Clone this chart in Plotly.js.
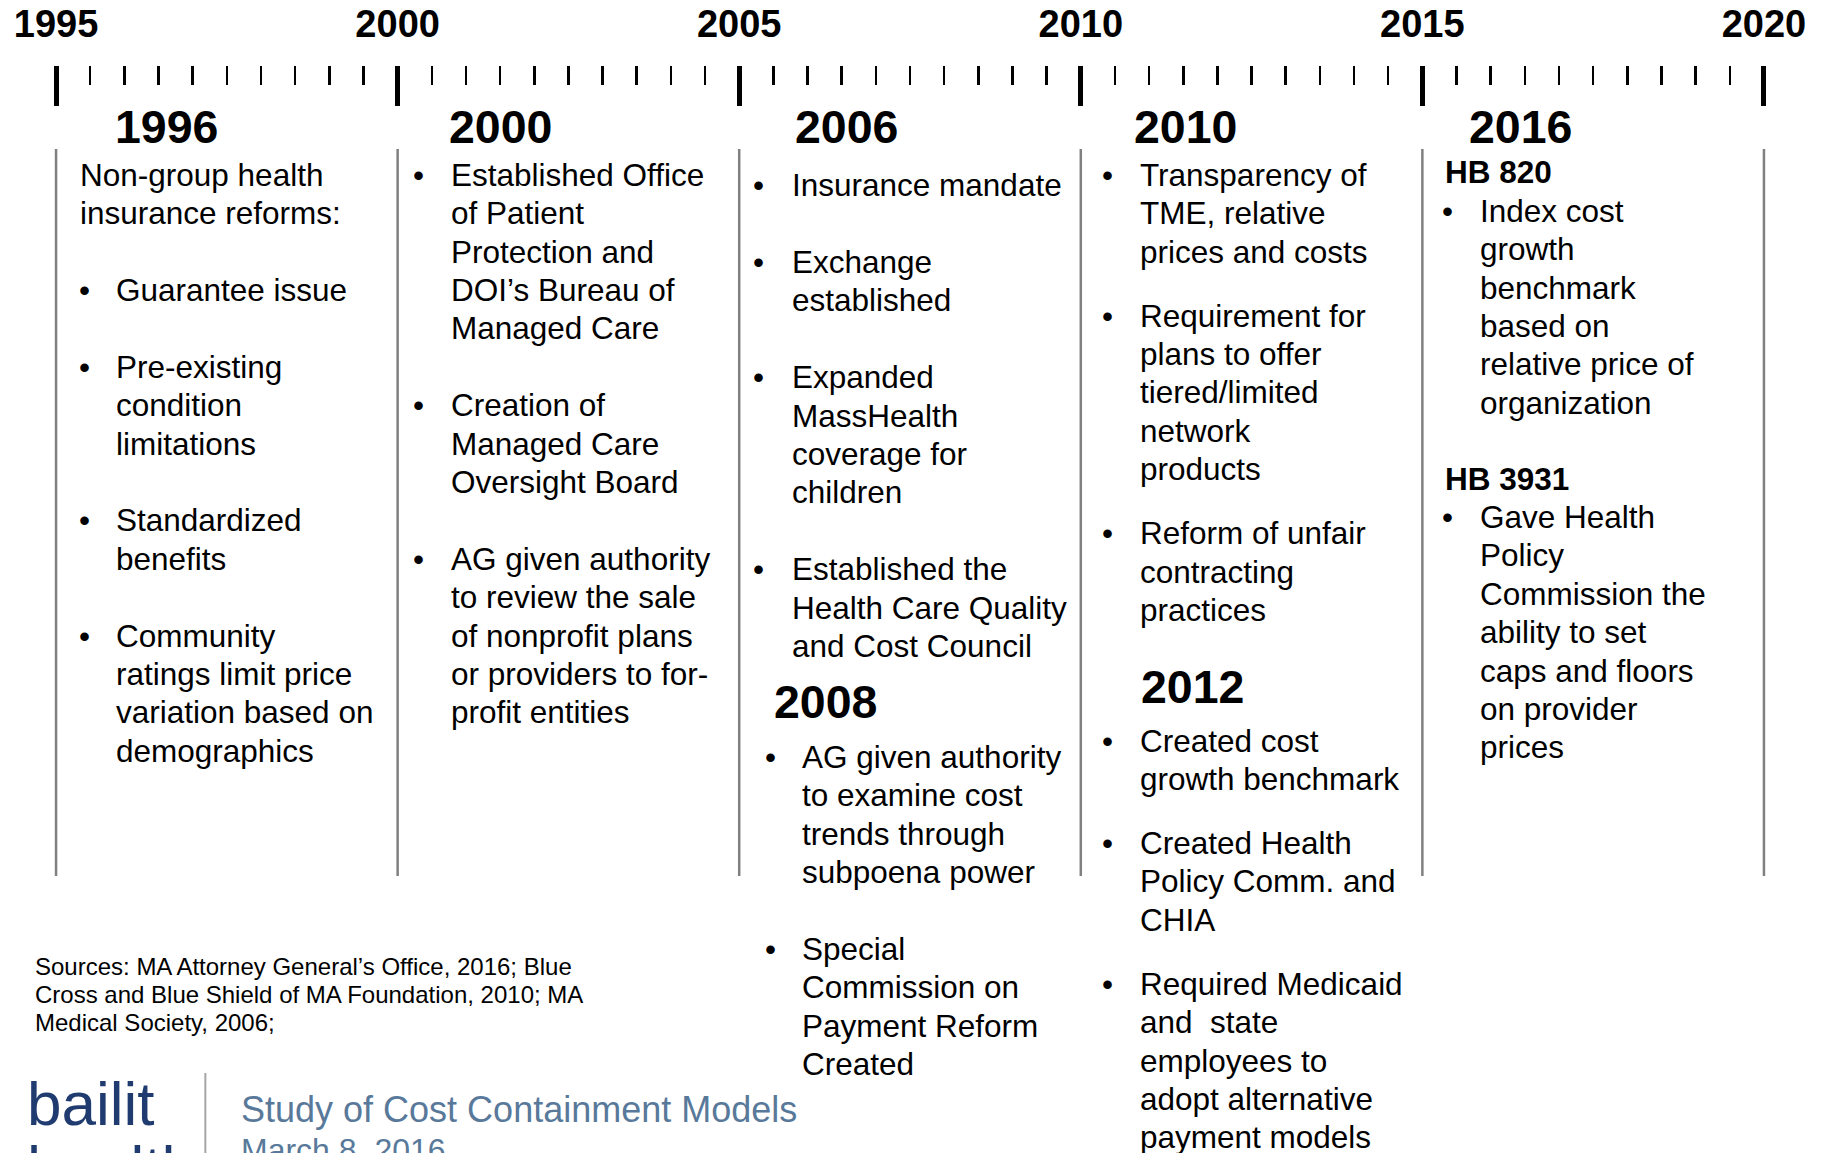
<!DOCTYPE html>
<html>
<head>
<meta charset="utf-8">
<script src="https://cdn.plot.ly/plotly-3.0.1.min.js"></script>
<style>html,body{margin:0;padding:0;background:#fff;}#chart{width:1826px;height:1153px;}</style>
</head>
<body>
<div id="chart"></div>
<script>
// ---------------- DATA ----------------
const axisYears = [1995, 2000, 2005, 2010, 2015, 2020];
const milestones = ['1996', '2000', '2006', '2008', '2010', '2012', '2016'];

const intro1996 = ['Non-group health', 'insurance reforms:'];
const items1996 = [
  ['Guarantee issue'],
  ['Pre-existing', 'condition', 'limitations'],
  ['Standardized', 'benefits'],
  ['Community', 'ratings limit price', 'variation based on', 'demographics']
];
const items2000 = [
  ['Established Office', 'of Patient', 'Protection and', 'DOI\u2019s Bureau of', 'Managed Care'],
  ['Creation of', 'Managed Care', 'Oversight Board'],
  ['AG given authority', 'to review the sale', 'of nonprofit plans', 'or providers to for-', 'profit entities']
];
const items2006 = [
  ['Insurance mandate'],
  ['Exchange', 'established'],
  ['Expanded', 'MassHealth', 'coverage for', 'children'],
  ['Established the', 'Health Care Quality', 'and Cost Council']
];
const items2008 = [
  ['AG given authority', 'to examine cost', 'trends through', 'subpoena power'],
  ['Special', 'Commission on', 'Payment Reform', 'Created']
];
const items2010 = [
  ['Transparency of', 'TME, relative', 'prices and costs'],
  ['Requirement for', 'plans to offer', 'tiered/limited', 'network', 'products'],
  ['Reform of unfair', 'contracting', 'practices']
];
const items2012 = [
  ['Created cost', 'growth benchmark'],
  ['Created Health', 'Policy Comm. and', 'CHIA'],
  ['Required Medicaid', 'and\u00a0 state', 'employees to', 'adopt alternative', 'payment models']
];
const bills2016 = ['HB 820', 'HB 3931'];
const itemsHB820 = [
  ['Index cost', 'growth', 'benchmark', 'based on', 'relative price of', 'organization']
];
const itemsHB3931 = [
  ['Gave Health', 'Policy', 'Commission the', 'ability to set', 'caps and floors', 'on provider', 'prices']
];
const sources = [
  'Sources: MA Attorney General\u2019s Office, 2016; Blue',
  'Cross and Blue Shield of MA Foundation, 2010; MA',
  'Medical Society, 2006;'
];
const footerTitle = 'Study of Cost Containment Models';
const footerDate = 'March 8, 2016';
const logoWords = ['bailit', 'health'];

// ---------------- LAYOUT HELPERS ----------------
const F = 'Liberation Sans, Arial, Helvetica, sans-serif';
const W = 1826, H = 1153, ML = 56, MR = 62, MT = 66;
const BODY = 31.5, HEAD = 46.5, P = 38.4;
const EDGE = 0.03; // small range padding so the end ticks are drawn
const paperX = px => (px - ML) / (W - ML - MR);
const paperY = py => (H - py) / (H - MT);
const ann = [];

function text(x, shift, y, t, opt) {
  opt = opt || {};
  ann.push({
    xref: opt.paper ? 'paper' : 'x', yref: opt.paper ? 'paper' : 'y',
    x: x, y: opt.paper ? paperY(y) : y, xshift: shift || 0,
    text: t, showarrow: false,
    xanchor: opt.anchor || 'left', yanchor: 'middle',
    font: {family: F, size: opt.size || BODY, color: opt.color || '#000', weight: opt.bold ? 'bold' : 'normal'}
  });
}
function header(col, shift, y, t) { text(col, shift, y, t, {size: HEAD, bold: true}); }
function placeItems(col, bOff, tOff, y0, items, gap) {
  let y = y0, last = y0;
  items.forEach(lines => {
    text(col, bOff, y, '\u2022', {anchor: 'center'});
    lines.forEach((ln, k) => { text(col, tOff, y + k * P, ln); last = y + k * P; });
    y = last + P + gap;
  });
  return last;
}

// column 1 (1995-2000)
header(axisYears[0], 57, 126.5, milestones[0]);
intro1996.forEach((ln, k) => text(axisYears[0], 22, 174.7 + k * P, ln));
placeItems(axisYears[0], 28, 58, 174.7 + 3 * P, items1996, P);

// column 2 (2000-2005)
header(axisYears[1], 49.4, 126.5, milestones[1]);
placeItems(axisYears[1], 20.4, 51.4, 174.7, items2000, P);

// column 3 (2005-2010)
header(axisYears[2], 53.8, 126.5, milestones[2]);
placeItems(axisYears[2], 18.8, 50.8, 185.2, items2006, P);
header(axisYears[2], 32.8, 702, milestones[3]);
placeItems(axisYears[2], 30.8, 60.8, 757, items2008, P);

// column 4 (2010-2015)
header(axisYears[3], 51.2, 126.5, milestones[4]);
placeItems(axisYears[3], 27.2, 57.2, 174.7, items2010, 25.6);
header(axisYears[3], 58.2, 687, milestones[5]);
placeItems(axisYears[3], 27.2, 57.2, 740.6, items2012, 25.6);

// column 5 (2015-2020)
header(axisYears[4], 44.3, 126.5, milestones[6]);
text(axisYears[4], 20.3, 172.3, bills2016[0], {bold: true});
placeItems(axisYears[4], 25.6, 55.6, 210.8, itemsHB820, P);
text(axisYears[4], 20.3, 478.6, bills2016[1], {bold: true});
placeItems(axisYears[4], 25.6, 55.6, 517, itemsHB3931, P);

// footer
sources.forEach((ln, k) => text(paperX(35), 0, 966.5 + k * 28, ln, {paper: true, size: 24}));
text(paperX(241), 0, 1109.5, footerTitle, {paper: true, size: 36, color: '#58799a'});
text(paperX(241), 0, 1149.5, footerDate, {paper: true, size: 32, color: '#58799a'});
text(paperX(27), 0, 1103, logoWords[0], {paper: true, size: 62, color: '#1f3b6f'});
text(paperX(27), 0, 1167, logoWords[1], {paper: true, size: 62, color: '#1f3b6f'});

// separators
const shapes = axisYears.map(yr => ({
  type: 'line', xref: 'x', yref: 'y', x0: yr, x1: yr, y0: 149, y1: 876,
  line: {color: '#808080', width: 2.5}
}));
shapes.push({type: 'line', xref: 'paper', yref: 'y', x0: paperX(207), x1: paperX(207), y0: 1073, y1: H,
  line: {color: '#a6a6a6', width: 2}});

const pxPerYear = (W - ML - MR) / (axisYears[axisYears.length - 1] - axisYears[0]);
const padPx = EDGE * pxPerYear;

const layout = {
  width: W, height: H,
  margin: {l: ML - padPx, r: MR - padPx, t: MT, b: 0, pad: 0},
  paper_bgcolor: '#fff', plot_bgcolor: '#fff',
  showlegend: false,
  xaxis: {
    side: 'top', range: [axisYears[0] - EDGE, axisYears[axisYears.length - 1] + EDGE],
    tickmode: 'array', tickvals: axisYears, ticktext: axisYears.map(String),
    ticks: 'inside', ticklen: 40, tickwidth: 5, tickcolor: '#000',
    ticklabelstandoff: 20,
    tickfont: {family: F, size: 38, color: '#000', weight: 'bold'},
    showline: false, showgrid: false, zeroline: false, fixedrange: true,
    minor: {dtick: 0.5, tick0: 1995, ticks: 'inside', ticklen: 19, tickwidth: 2.5, tickcolor: '#000', showgrid: false}
  },
  yaxis: {range: [H, MT], visible: false, showgrid: false, zeroline: false, fixedrange: true},
  shapes: shapes,
  annotations: ann
};

Plotly.newPlot('chart', [{x: axisYears, y: axisYears.map(() => null), type: 'scatter', mode: 'markers', hoverinfo: 'skip'}], layout, {displayModeBar: false, staticPlot: true});
</script>
</body>
</html>
